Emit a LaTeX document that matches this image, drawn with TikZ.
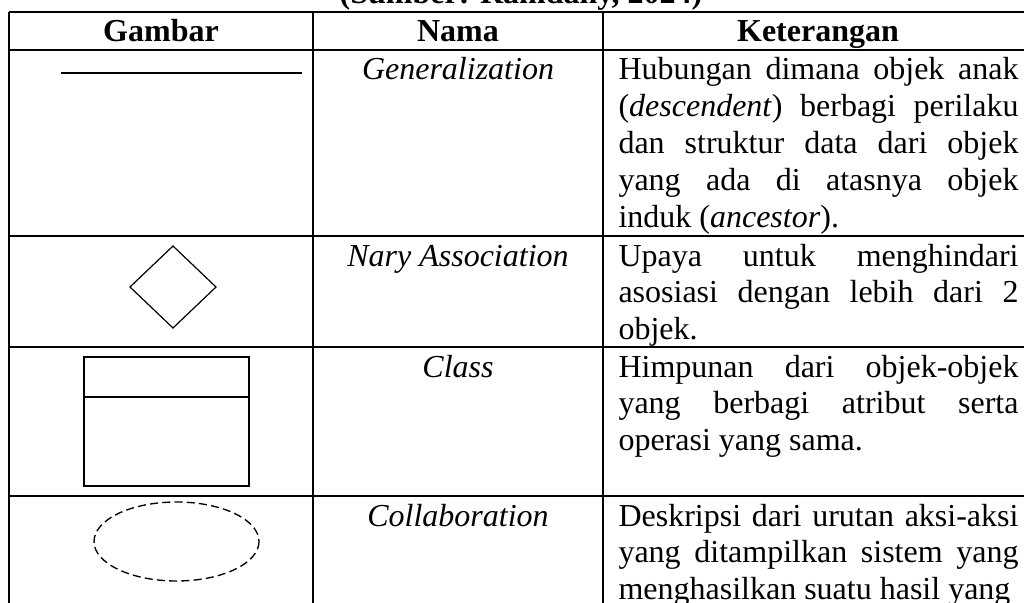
\documentclass[tikz,border=0pt]{standalone}
\usepackage{fontspec}
\setmainfont{Liberation Serif}
\usepackage{tikz}
\usetikzlibrary{positioning}
\tolerance=9999
\hyphenpenalty=10000
\exhyphenpenalty=10000

\begin{document}
\begin{tikzpicture}[
		x=0.375pt, y=-0.375pt,
		cellfont/.style={font=\fontsize{12pt}{13.8pt}\selectfont},
		grid/.style={line width=0.75pt},
		head/.style={
			cellfont,
			anchor=base,
			inner sep=0pt,
			font=\fontsize{12pt}{13.8pt}\selectfont\bfseries
		},
		namacell/.style={
			anchor=base,
			inner sep=0pt,
			font=\fontsize{12pt}{13.8pt}\selectfont\itshape
		},
		ketcell/.style={
			anchor=base west,
			inner sep=0pt,
			text width=150pt,
			align=justify,
			font=\fontsize{12pt}{13.8pt}\selectfont
		},
		symbol/.style={line width=0.6pt},
		dashedsym/.style={line width=0.5pt, dash pattern=on 3pt off 1.6pt}
		]
		
		\useasboundingbox (0,0) rectangle (1024,603);
		\clip (0,0) rectangle (1024,603);
		
		\node[head] (title) at (521,4) {(Sumber: Ramdany, 2024)};
		
		\draw[grid] (9,12) -- (1033,12);
		\draw[grid] (9,50) -- (1033,50);
		\draw[grid] (9,236) -- (1033,236);
		\draw[grid] (9,347) -- (1033,347);
		\draw[grid] (9,496) -- (1033,496);
		\draw[grid] (9,12) -- (9,640);
		\draw[grid] (313,12) -- (313,640);
		\draw[grid] (603,12) -- (603,640);
		\draw[grid] (1033,12) -- (1033,640);
		
		\node[head] (gambar) at (161,42) {Gambar};
		\node[head] (nama) at (458,42) {Nama};
		\node[head] (keterangan) at (818,42) {Keterangan};
		
		\draw[line width=0.75pt] (61,73) -- (302,73);
		\node[namacell] (generalization) at (458,80) {Generalization};
		\node[ketcell] (genket) at (618,80)
		{Hubungan dimana objek anak\linebreak (\emph{descendent}) berbagi perilaku\linebreak dan struktur data dari objek\linebreak yang ada di atasnya objek\linebreak induk (\emph{ancestor}).};
		
		\draw[line width=0.45pt] (173,246) -- (216,287) -- (173,328) -- (130,287) -- cycle;
		\node[namacell] (nary) at (458,266) {Nary Association};
		\node[ketcell] (naryket) at (618,266)
		{Upaya untuk menghindari\linebreak asosiasi dengan lebih dari 2\linebreak objek.};
		
		\draw[symbol] (84,357) rectangle (249,486);
		\draw[symbol] (84,397) -- (249,397);
		\node[namacell] (class) at (458,377) {Class};
		\node[ketcell] (classket) at (618,377)
		{Himpunan dari objek-objek\linebreak yang berbagi atribut serta\linebreak operasi yang sama.};
		
		\draw[dashedsym] (176.5,541.5) ellipse [x radius=82.5, y radius=39.5];
		\node[namacell] (collab) at (458,526) {Collaboration};
		\node[ketcell] (collabket) at (618,526)
		{\parfillskip=0pt Deskripsi dari urutan aksi-aksi\linebreak yang ditampilkan sistem yang\linebreak menghasilkan suatu hasil yang};
		
	\end{tikzpicture}
\end{document}
